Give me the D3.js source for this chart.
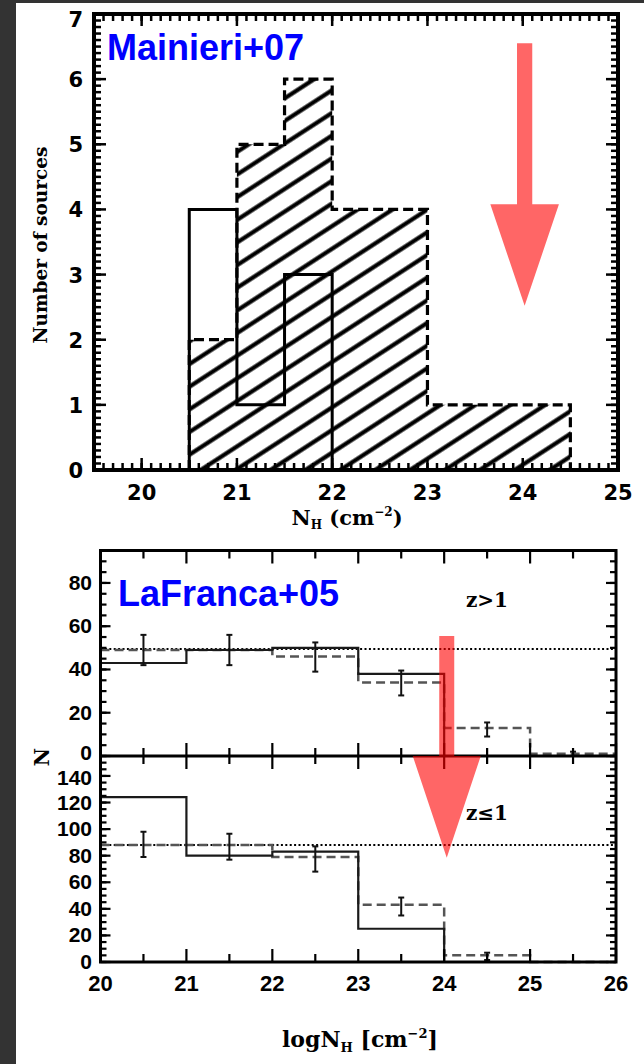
<!DOCTYPE html>
<html>
<head>
<meta charset="utf-8">
<script src="https://cdnjs.cloudflare.com/ajax/libs/d3/7.8.5/d3.min.js"></script>
<style>
	body{
	    margin:0;
	    background-color:#ffffff;
	}
	svg{ display:block; }
</style>
</head>
<body>
<svg id="chart" width="644" height="1064"></svg>
<script>
	///////////////	 DATA 	//////////////////
	// Mainieri+07 histogram (0.5 dex bins)
	var mainEdges = [20.5, 21, 21.5, 22, 22.5, 23, 23.5, 24, 24.5];
	var mainHatched = [2, 5, 6, 4, 4, 1, 1, 1];
	var openEdges = [20.5, 21, 21.5, 22];
	var openCounts = [4, 1, 3];
	var mainXTicks = [20, 21, 22, 23, 24, 25];
	var mainYTicks = [0, 1, 2, 3, 4, 5, 6, 7];

	// LaFranca+05 histograms (1 dex bins)
	var lfEdges = [20, 21, 22, 23, 24, 25, 26];
	var lfCenters = [20.5, 21.5, 22.5, 23.5, 24.5, 25.5];
	var hiZModel = [43, 49, 50, 38, 0, 0];
	var hiZObs = [49, 49, 46, 34, 13, 1];
	var hiZErrLo = [42, 42, 39, 28, 9, 0];
	var hiZErrHi = [56, 56, 52.5, 39.5, 15.5, 2];
	var hiZFlat = 49.5;
	var loZModel = [124, 80, 83, 25, 0, 0];
	var loZObs = [88, 88, 79, 43, 5, 0];
	var loZErrLo = [79, 77, 68, 35, 1.5, null];
	var loZErrHi = [98, 96.5, 87, 48.5, 7, null];
	var loZFlat = 88;
	var lfXTicks = [20, 21, 22, 23, 24, 25, 26];
	var hiYTicks = [0, 20, 40, 60, 80];
	var loYTicks = [0, 20, 40, 60, 80, 100, 120, 140];

	// arrows in data units: x, shaft top, head base, tip
	var topArrow = {x: 24.02, top: 6.55, base: 4.08, tip: 2.52};
	var lfArrow = {x: 24.03, top: 55.5, tip: 78.5};

	var svg = d3.select("#chart");
	var RED = "#ff0000";
	var TICKFONT = "'DejaVu Sans', sans-serif";
	var SERIF = "'DejaVu Serif', serif";

	svg.append("rect").attr("width", 644).attr("height", 1064).attr("fill", "#ffffff");
	// dark frame of the screenshot
	svg.append("rect").attr("x", 0).attr("y", 0).attr("width", 16).attr("height", 1064).attr("fill", "#333333");
	svg.append("rect").attr("x", 0).attr("y", 0).attr("width", 644).attr("height", 3).attr("fill", "#333333");

	// hatch pattern
	var defs = svg.append("defs");
	var pat = defs.append("pattern")
		.attr("id", "hatch")
		.attr("patternUnits", "userSpaceOnUse")
		.attr("width", 20).attr("height", 19)
		.attr("patternTransform", "rotate(-33)");
	pat.append("line")
		.attr("x1", 0).attr("x2", 20).attr("y1", 9.5).attr("y2", 9.5)
		.attr("stroke", "#000").attr("stroke-width", 4.2);

	function stepPoints(edges, counts, closeDown) {
		var pts = [];
		if (closeDown) pts.push([edges[0], 0]);
		for (var i = 0; i < counts.length; i++) {
			pts.push([edges[i], counts[i]]);
			pts.push([edges[i + 1], counts[i]]);
		}
		if (closeDown) pts.push([edges[edges.length - 1], 0]);
		return pts;
	}

	function ticks(g, scale, vals, len, orient, pos) {
		// orient: side of the frame; ticks point inward
		vals.forEach(function(v){
			var p = scale(v);
			var l = g.append("line").attr("stroke", "#000");
			if (orient == "bottom") l.attr("x1", p).attr("x2", p).attr("y1", pos).attr("y2", pos - len);
			if (orient == "top") l.attr("x1", p).attr("x2", p).attr("y1", pos).attr("y2", pos + len);
			if (orient == "left") l.attr("y1", p).attr("y2", p).attr("x1", pos).attr("x2", pos + len);
			if (orient == "right") l.attr("y1", p).attr("y2", p).attr("x1", pos).attr("x2", pos - len);
		});
	}

	///////////////	 TOP PANEL 	//////////////////
	var xTop = d3.scaleLinear().domain([19.5, 25]).range([94, 618]);
	var yTop = d3.scaleLinear().domain([0, 7]).range([470, 14]);
	var lineTop = d3.line().x(function(d){ return xTop(d[0]); }).y(function(d){ return yTop(d[1]); });

	var gTop = svg.append("g");
	gTop.append("path")
		.attr("d", lineTop(stepPoints(mainEdges, mainHatched, true)) + "Z")
		.attr("fill", "url(#hatch)");
	gTop.append("path")
		.attr("d", lineTop(stepPoints(mainEdges, mainHatched, true)))
		.attr("fill", "none").attr("stroke", "#000").attr("stroke-width", 3.2)
		.attr("stroke-dasharray", "10,5");
	gTop.append("path")
		.attr("d", lineTop(stepPoints(openEdges, openCounts, true)))
		.attr("fill", "none").attr("stroke", "#000").attr("stroke-width", 3);

	var minorX = d3.range(195, 251).map(function(d){ return d / 10; });
	var minorY = d3.range(0, 71).map(function(d){ return d / 10; });
	var gTk = gTop.append("g").attr("stroke-width", 2.5);
	ticks(gTk, xTop, minorX, 7, "bottom", 470);
	ticks(gTk, xTop, minorX, 7, "top", 14);
	ticks(gTk, xTop, mainXTicks, 12, "bottom", 470);
	ticks(gTk, xTop, mainXTicks, 12, "top", 14);
	ticks(gTk, yTop, minorY, 7, "left", 94);
	ticks(gTk, yTop, minorY, 7, "right", 618);
	ticks(gTk, yTop, mainYTicks, 12, "left", 94);
	ticks(gTk, yTop, mainYTicks, 12, "right", 618);

	gTop.append("rect")
		.attr("x", 94).attr("y", 14).attr("width", 524).attr("height", 456)
		.attr("fill", "none").attr("stroke", "#000").attr("stroke-width", 4);

	gTop.selectAll(".xl").data(mainXTicks).enter().append("text")
		.attr("x", function(d){ return xTop(d); }).attr("y", 500)
		.attr("text-anchor", "middle")
		.style("font", "bold 21px " + TICKFONT)
		.text(function(d){ return d; });
	gTop.selectAll(".yl").data(mainYTicks).enter().append("text")
		.attr("x", 83).attr("y", function(d){ return yTop(d) + 8 + (d == 7 ? 5 : 0); })
		.attr("text-anchor", "end")
		.style("font", "bold 21px " + TICKFONT)
		.text(function(d){ return d; });

	gTop.append("text")
		.attr("transform", "translate(47,245) rotate(-90)")
		.attr("text-anchor", "middle")
		.style("font", "bold 18.5px " + SERIF)
		.text("Number of sources");

	var xt = gTop.append("text")
		.attr("x", 347).attr("y", 525)
		.attr("text-anchor", "middle")
		.style("font", "bold 21px " + SERIF);
	xt.append("tspan").text("N");
	xt.append("tspan").attr("dy", 4).style("font-size", "12px").text("H");
	xt.append("tspan").attr("dy", -4).text(" (cm");
	xt.append("tspan").attr("dy", -9).style("font-size", "12px").text("−2");
	xt.append("tspan").attr("dy", 9).text(")");

	gTop.append("text")
		.attr("x", 107).attr("y", 60)
		.attr("fill", "#0000ff")
		.style("font", "bold 36px 'Liberation Sans', Arial, sans-serif")
		.text("Mainieri+07");

	// arrow
	var aw = 0.08, hw = 0.36;
	var arrowPts = [
		[topArrow.x - aw, topArrow.top], [topArrow.x + aw, topArrow.top],
		[topArrow.x + aw, topArrow.base], [topArrow.x + hw, topArrow.base],
		[topArrow.x, topArrow.tip], [topArrow.x - hw, topArrow.base],
		[topArrow.x - aw, topArrow.base]
	];
	gTop.append("path")
		.attr("d", lineTop(arrowPts) + "Z")
		.attr("fill", RED).attr("fill-opacity", 0.6);

	///////////////	 BOTTOM PANEL 	//////////////////
	var xB = d3.scaleLinear().domain([20, 26]).range([100.5, 616]);
	var yHi = d3.scaleLinear().domain([0, 95]).range([756, 550.5]);
	var yLo = d3.scaleLinear().domain([0, 155]).range([962, 756]);
	var gB = svg.append("g");

	function drawSub(y, model, obs, lo, hi, flat) {
		var ln = d3.line().x(function(d){ return xB(d[0]); }).y(function(d){ return y(d[1]); });
		gB.append("path")
			.attr("d", ln([[20, flat], [26, flat]]))
			.attr("fill", "none").attr("stroke", "#000").attr("stroke-width", 2)
			.attr("stroke-dasharray", "2,2.4");
		gB.append("path")
			.attr("d", ln(stepPoints(lfEdges, obs, false)))
			.attr("fill", "none").attr("stroke", "#555").attr("stroke-width", 2.5)
			.attr("stroke-dasharray", "9,5");
		gB.append("path")
			.attr("d", ln(stepPoints(lfEdges, model, false)))
			.attr("fill", "none").attr("stroke", "#1a1a1a").attr("stroke-width", 2.2);
		lfCenters.forEach(function(c, i){
			if (lo[i] == null) return;
			var g = gB.append("g").attr("stroke", "#111").attr("stroke-width", 2);
			g.append("line").attr("x1", xB(c)).attr("x2", xB(c)).attr("y1", y(lo[i])).attr("y2", y(hi[i]));
			g.append("line").attr("x1", xB(c) - 3).attr("x2", xB(c) + 3).attr("y1", y(lo[i])).attr("y2", y(lo[i]));
			g.append("line").attr("x1", xB(c) - 3).attr("x2", xB(c) + 3).attr("y1", y(hi[i])).attr("y2", y(hi[i]));
		});
	}
	drawSub(yHi, hiZModel, hiZObs, hiZErrLo, hiZErrHi, hiZFlat);
	drawSub(yLo, loZModel, loZObs, loZErrLo, loZErrHi, loZFlat);

	var gBt = gB.append("g").attr("stroke-width", 2.2);
	var halfX = d3.range(20.5, 26, 1);
	ticks(gBt, xB, lfXTicks, 13, "top", 550.5);
	ticks(gBt, xB, halfX, 8, "top", 550.5);
	ticks(gBt, xB, lfXTicks, 13, "bottom", 962);
	ticks(gBt, xB, halfX, 8, "bottom", 962);
	ticks(gBt, xB, lfXTicks, 13, "top", 756);
	ticks(gBt, xB, halfX, 8, "top", 756);
	ticks(gBt, xB, lfXTicks, 13, "bottom", 756);
	ticks(gBt, xB, halfX, 8, "bottom", 756);
	var hiMinor = d3.range(0, 96, 5), loMinor = d3.range(0, 156, 5);
	ticks(gBt, yHi, hiMinor, 6, "left", 100.5);
	ticks(gBt, yHi, hiMinor, 6, "right", 616);
	ticks(gBt, yHi, hiYTicks, 10, "left", 100.5);
	ticks(gBt, yHi, hiYTicks, 10, "right", 616);
	ticks(gBt, yLo, loMinor, 6, "left", 100.5);
	ticks(gBt, yLo, loMinor, 6, "right", 616);
	ticks(gBt, yLo, loYTicks, 10, "left", 100.5);
	ticks(gBt, yLo, loYTicks, 10, "right", 616);

	gB.append("rect")
		.attr("x", 100.5).attr("y", 550.5).attr("width", 515.5).attr("height", 411.5)
		.attr("fill", "none").attr("stroke", "#000").attr("stroke-width", 3);
	gB.append("line")
		.attr("x1", 100.5).attr("x2", 616).attr("y1", 756).attr("y2", 756)
		.attr("stroke", "#000").attr("stroke-width", 3);

	var LBL = "bold 21px 'Liberation Sans', Arial, sans-serif";
	gB.selectAll(".hy").data(hiYTicks).enter().append("text")
		.attr("x", 92).attr("y", function(d){ return yHi(d) + 7 - (d == 0 ? 3 : 0); })
		.attr("text-anchor", "end").style("font", LBL)
		.text(function(d){ return d; });
	gB.selectAll(".ly").data(loYTicks).enter().append("text")
		.attr("x", 92).attr("y", function(d){ return yLo(d) + 7 + (d == 140 ? 2 : 0); })
		.attr("text-anchor", "end").style("font", LBL)
		.text(function(d){ return d; });
	gB.selectAll(".bx").data(lfXTicks).enter().append("text")
		.attr("x", function(d){ return xB(d); }).attr("y", 991)
		.attr("text-anchor", "middle").style("font", "bold 22px 'Liberation Sans', Arial, sans-serif")
		.text(function(d){ return d; });

	gB.append("text")
		.attr("transform", "translate(49,757) rotate(-90)")
		.attr("text-anchor", "middle")
		.style("font", "bold 20px " + SERIF)
		.text("N");

	var bt = gB.append("text")
		.attr("x", 360).attr("y", 1047)
		.attr("text-anchor", "middle")
		.style("font", "bold 22px " + SERIF);
	bt.append("tspan").text("logN");
	bt.append("tspan").attr("dy", 5).style("font-size", "13px").text("H");
	bt.append("tspan").attr("dy", -5).text(" [cm");
	bt.append("tspan").attr("dy", -9).style("font-size", "13px").text("−2");
	bt.append("tspan").attr("dy", 9).text("]");

	gB.append("text")
		.attr("x", 487).attr("y", 607).attr("text-anchor", "middle")
		.style("font", "bold 20px " + SERIF).text("z>1");
	gB.append("text")
		.attr("x", 487).attr("y", 820).attr("text-anchor", "middle")
		.style("font", "bold 20px " + SERIF).text("z≤1");

	gB.append("text")
		.attr("x", 118).attr("y", 606)
		.attr("fill", "#0000ff")
		.style("font", "bold 36px 'Liberation Sans', Arial, sans-serif")
		.text("LaFranca+05");

	// arrow crossing both sub-panels
	var ax = xB(lfArrow.x), sw = 7.5, hw2 = 34;
	var lfArrowPts = [
		[ax - sw, yHi(lfArrow.top)], [ax + sw, yHi(lfArrow.top)],
		[ax + sw, yHi(0)], [ax + hw2, yHi(0)],
		[ax, yLo(lfArrow.tip)], [ax - hw2, yHi(0)], [ax - sw, yHi(0)]
	];
	gB.append("path")
		.attr("d", d3.line()(lfArrowPts) + "Z")
		.attr("fill", RED).attr("fill-opacity", 0.6);
</script>
</body>
</html>
